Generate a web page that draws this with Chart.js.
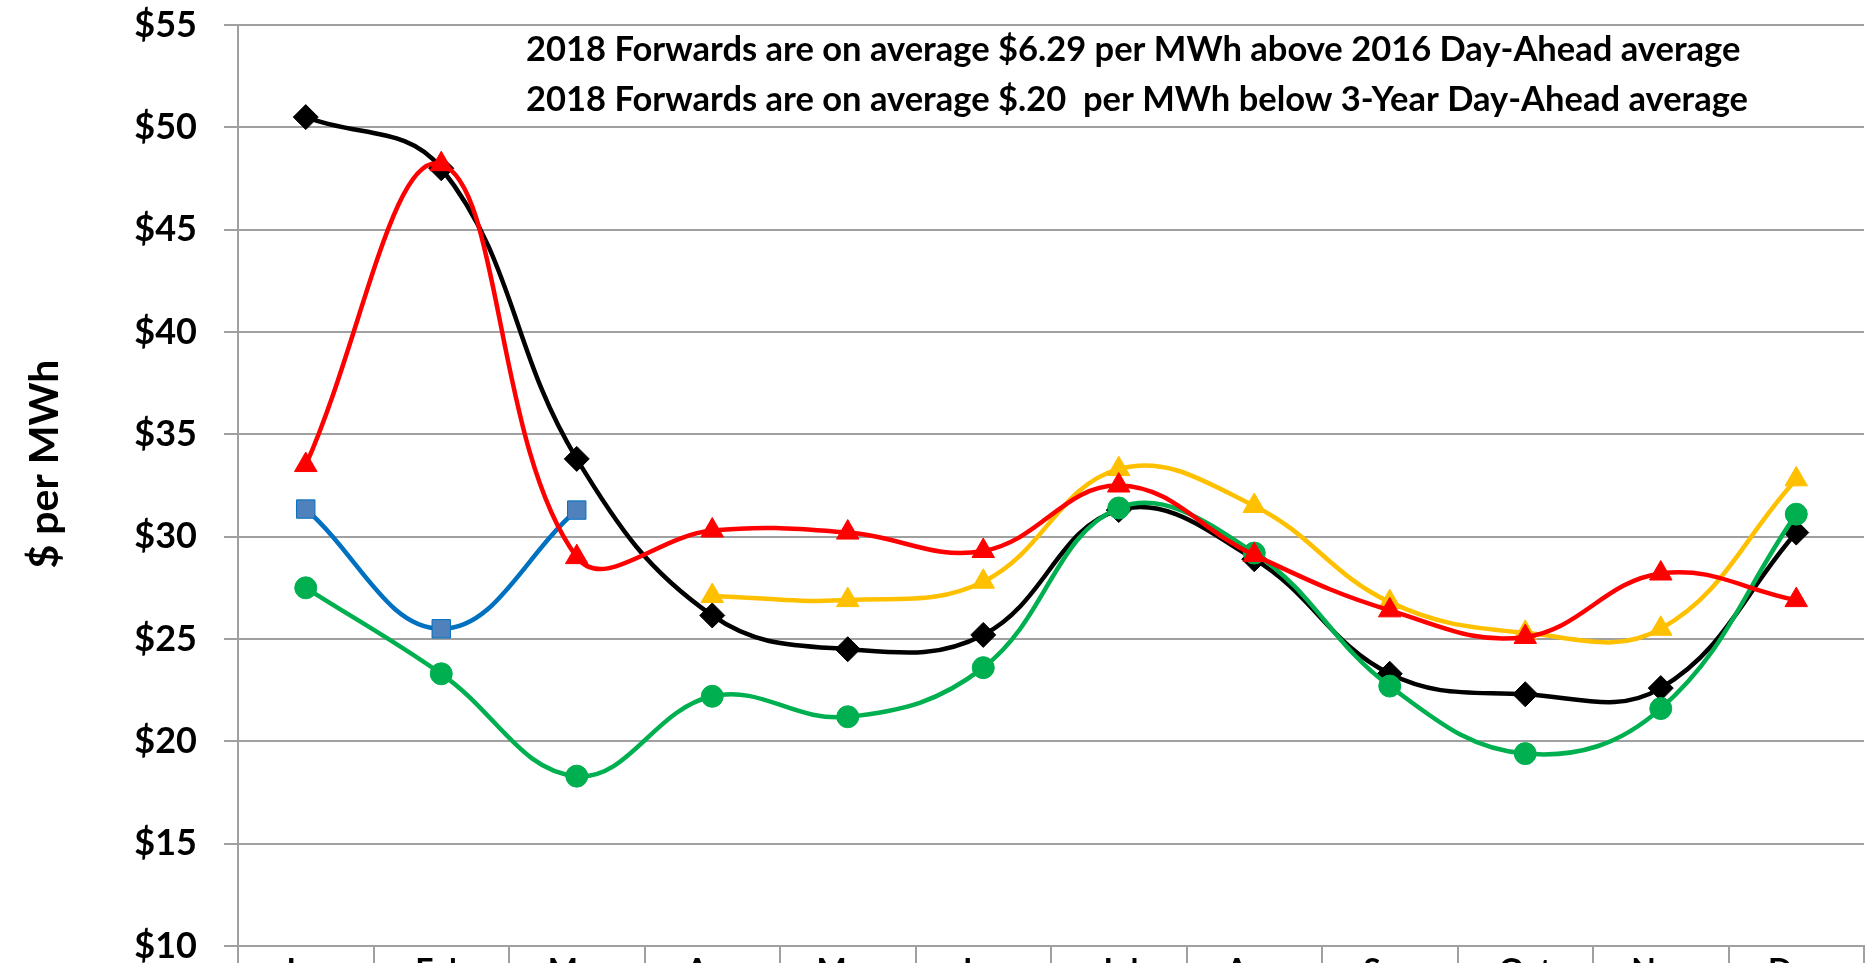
<!DOCTYPE html>
<html>
<head>
<meta charset="utf-8">
<script src="https://cdn.jsdelivr.net/npm/chart.js@4.4.0/dist/chart.umd.min.js"></script>
<style>
  html, body { margin: 0; padding: 0; background: #fff; overflow: hidden; }
  /* a bit wider/taller than the window: the point overflow padding and the cut-off month labels fall outside */
  #wrap { position: relative; width: 1878px; height: 1010px; }
</style>
</head>
<body>
<div id="wrap"><canvas id="myChart"></canvas></div>
<script>
const months = ['Jan', 'Feb', 'Mar', 'Apr', 'May', 'Jun', 'Jul', 'Aug', 'Sep', 'Oct', 'Nov', 'Dec'];

// $ per MWh
const forwards2018 = [50.5, 48.0, 33.8, 26.15, 24.5, 25.2, 31.3, 28.9, 23.3, 22.3, 22.6, 30.2];
const dayAhead3yr  = [33.5, 48.2, 29.0, 30.3, 30.2, 29.3, 32.5, 29.1, 26.4, 25.1, 28.2, 26.9];
const dayAhead2016 = [27.5, 23.3, 18.3, 22.2, 21.2, 23.6, 31.4, 29.2, 22.7, 19.4, 21.6, 31.1];
const actual2017   = [31.35, 25.5, 31.3, null, null, null, null, null, null, null, null, null];
const forwards2017 = [null, null, null, 27.1, 26.9, 27.8, 33.3, 31.5, 26.8, 25.3, 25.5, 32.8];

const yTicks = [10, 15, 20, 25, 30, 35, 40, 45, 50, 55];
const yTitle = '$ per MWh';

const noteLines = [
  '2018 Forwards are on average $6.29 per MWh above 2016 Day-Ahead average',
  '2018 Forwards are on average $.20  per MWh below 3-Year Day-Ahead average'
];

const FONT = 'Lato, "Open Sans", sans-serif';
const GRID = '#A0A0A0';

function series(label, data, color, style, radius, fill) {
  return {
    label: label,
    data: data,
    borderColor: color,
    backgroundColor: color,
    borderWidth: 4.5,
    pointStyle: style,
    pointRadius: radius,
    pointBackgroundColor: fill || color,
    pointBorderColor: color,
    pointBorderWidth: 1,
    tension: 0.4,
    spanGaps: false
  };
}

// note text inside the plot + y axis title (drawn here so it can sit where the original has it)
const notePlugin = {
  id: 'note',
  afterDraw(chart) {
    const ctx = chart.ctx;
    ctx.save();
    ctx.fillStyle = '#000';
    ctx.font = 'bold 34.5px ' + FONT;
    ctx.textBaseline = 'alphabetic';
    ctx.textAlign = 'left';
    noteLines.forEach((t, i) => ctx.fillText(t, 526, 61 + i * 50));

    ctx.translate(45, 464);
    ctx.rotate(-Math.PI / 2);
    ctx.font = 'bold 41px ' + FONT;
    ctx.textAlign = 'center';
    ctx.textBaseline = 'middle';
    ctx.fillText(yTitle, 0, 0);
    ctx.restore();
  }
};

const ctx = document.getElementById('myChart');

let myChart = new Chart(ctx, {
  type: 'line',
  data: {
    labels: months,
    datasets: [
      series('3-Year Day-Ahead', dayAhead3yr, '#FF0000', 'triangle', 13),
      series('2017 Day-Ahead', actual2017, '#0070C0', 'rect', 13, '#4F81BD'),
      series('2017 Forwards', forwards2017, '#FFC000', 'triangle', 13),
      series('2016 Day-Ahead', dayAhead2016, '#00B050', 'circle', 11),
      series('2018 Forwards', forwards2018, '#000000', 'rectRot', 12.5)
    ]
  },
  options: {
    responsive: true,
    maintainAspectRatio: false,
    animation: false,
    layout: { padding: { left: 0, right: 0, top: 25, bottom: 0 } },
    plugins: {
      legend: { display: false },
      tooltip: { enabled: false }
    },
    scales: {
      x: {
        offset: true,
        grid: {
          offset: true,
          drawOnChartArea: false,
          drawTicks: true,
          tickLength: 30,
          color: GRID,
          lineWidth: 2
        },
        border: { color: GRID, width: 2 },
        ticks: {
          color: '#000',
          font: { family: FONT, size: 32, weight: 'bold' },
          padding: -24,
          maxRotation: 0,
          autoSkip: false
        },
        afterFit: (s) => { s.height = 64; s.paddingLeft = 0; s.paddingRight = 0; }
      },
      y: {
        min: 10,
        max: 55,
        afterBuildTicks: (s) => { s.ticks = yTicks.map(v => ({ value: v })); },
        ticks: {
          color: '#000',
          font: { family: FONT, size: 36, weight: 'bold' },
          padding: 27,
          callback: (v) => '$' + v
        },
        grid: { color: GRID, lineWidth: 2, tickLength: 14 },
        border: { color: GRID, width: 2 },
        afterFit: (s) => { s.width = 238; s.paddingTop = 0; s.paddingBottom = 0; }
      }
    }
  },
  plugins: [notePlugin]
});
</script>
</body>
</html>
